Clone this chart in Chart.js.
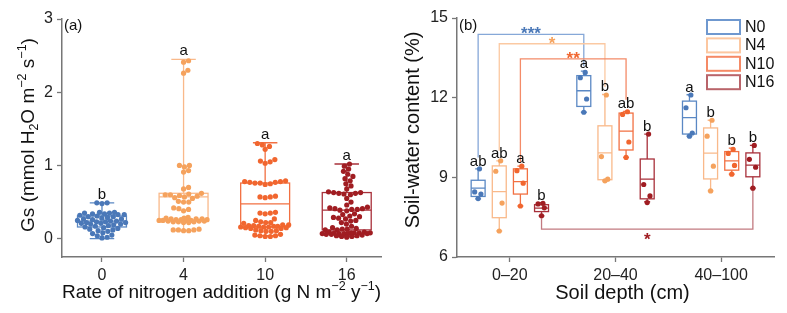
<!DOCTYPE html>
<html>
<head>
<meta charset="utf-8">
<script src="https://cdn.jsdelivr.net/npm/chart.js@4.4.1/dist/chart.umd.min.js"></script>
<style>
    html, body { margin: 0; padding: 0; background: #fff; }
    #wrap { position: relative; width: 787px; height: 313px; }
    #chartA { position: absolute; left: 0; top: 0; }
    #chartB { position: absolute; left: 400px; top: 0; }
</style>
</head>
<body>
<div id="wrap">
    <canvas id="chartA" width="400" height="313"></canvas>
    <canvas id="chartB" width="387" height="313"></canvas>
</div>
<script>
"use strict";

var FONT = "'Liberation Sans', Arial, sans-serif";

/* ---- panel (a) : stomatal conductance ---- */
var rateLabels = ['0', '4', '10', '16'];
var gsN0 = [0.49, 0.49, 0.48,
    0.36, 0.36, 0.35, 0.35, 0.34, 0.34, 0.33, 0.33,
    0.32, 0.31, 0.30, 0.30, 0.29, 0.28, 0.27, 0.27,
    0.26, 0.25, 0.24, 0.24, 0.23, 0.23, 0.22, 0.22, 0.21, 0.21, 0.20, 0.20,
    0.19, 0.18, 0.17, 0.16, 0.15, 0.14, 0.13, 0.12, 0.11, 0.10,
    0.08, 0.07, 0.05, 0.04, 0.02, 0.01];
var gsN4 = [2.43, 2.41, 2.30, 2.26,
    1.00, 1.00, 0.98, 0.93, 0.91,
    0.70, 0.68,
    0.62, 0.61, 0.60, 0.60, 0.59, 0.58, 0.57, 0.56, 0.55,
    0.51, 0.50, 0.50,
    0.42, 0.41, 0.40, 0.38,
    0.29, 0.28, 0.28, 0.27, 0.27, 0.27, 0.26, 0.26, 0.26, 0.25, 0.25, 0.25, 0.25,
    0.24, 0.24, 0.24, 0.23, 0.23, 0.23, 0.22, 0.22,
    0.13, 0.12, 0.12, 0.12, 0.11, 0.11];
var gsN10 = [1.30, 1.28, 1.26, 1.22,
    1.08, 1.06, 1.05, 1.03,
    0.79, 0.78, 0.78, 0.77, 0.77, 0.76, 0.76, 0.75, 0.74,
    0.58, 0.57, 0.57, 0.56,
    0.36, 0.35, 0.35, 0.34,
    0.27, 0.25, 0.23, 0.22, 0.22, 0.21,
    0.19, 0.19, 0.18, 0.18, 0.17, 0.17, 0.17, 0.16, 0.16, 0.16, 0.15, 0.15, 0.14, 0.14,
    0.12, 0.11, 0.11, 0.10, 0.10,
    0.06, 0.05, 0.04, 0.04, 0.03, 0.03];
var gsN16 = [1.02, 0.99, 0.95, 0.92, 0.88, 0.85, 0.82, 0.79, 0.75, 0.72, 0.68,
    0.64, 0.63, 0.63, 0.62, 0.62, 0.61, 0.60,
    0.55, 0.50, 0.46,
    0.43, 0.42, 0.41, 0.41, 0.40, 0.40, 0.39, 0.38,
    0.34, 0.33, 0.31, 0.30, 0.29, 0.28, 0.27, 0.25, 0.24, 0.22, 0.20,
    0.17, 0.15, 0.14, 0.13, 0.13, 0.12, 0.12,
    0.09, 0.09, 0.08, 0.08, 0.08, 0.08, 0.08, 0.07, 0.07, 0.07, 0.07, 0.07, 0.06, 0.06,
    0.05, 0.04, 0.04, 0.03, 0.03, 0.02];
// whisker low, q1, median, q3, whisker high
var gsStats = [
    [0.00, 0.16, 0.24, 0.31, 0.49],
    [0.11, 0.24, 0.57, 0.62, 2.45],
    [0.04, 0.16, 0.475, 0.76, 1.31],
    [0.03, 0.12, 0.39, 0.63, 1.02]
];
var gsLetters = ['b', 'a', 'a', 'a'];
var gsTicks = [0, 1, 2, 3];

/* ---- panel (b) : soil-water content ---- */
var depthLabels = ['0\u201320', '20\u201340', '40\u2013100'];
var treatments = ['N0', 'N4', 'N10', 'N16'];
var swcN0 = [[9.32, 8.45, 8.37, 8.20], [12.95, 12.75, 11.95, 11.45], [12.10, 11.62, 10.67, 10.55]];
var swcN4 = [[9.62, 9.23, 8.03, 6.98], [12.10, 9.78, 8.93, 8.87], [11.15, 10.55, 9.42, 8.49]];
var swcN10 = [[9.42, 9.25, 8.78, 7.92], [11.47, 11.37, 10.33, 9.75], [10.05, 9.90, 9.45, 9.12]];
var swcN16 = [[8.02, 8.00, 7.85, 7.55], [10.63, 8.73, 8.30, 8.05], [10.20, 9.68, 9.38, 8.59]];
var swcStats = [
    [[8.19, 8.28, 8.59, 8.89, 9.32], [11.45, 11.67, 12.26, 12.83, 13.00], [10.55, 10.63, 11.25, 11.87, 12.11]],
    [[6.98, 7.48, 8.46, 9.43, 9.62], [8.87, 8.91, 9.92, 10.94, 12.12], [8.49, 8.94, 9.91, 10.86, 11.15]],
    [[7.92, 8.37, 8.84, 9.32, 9.42], [9.75, 10.03, 10.74, 11.42, 11.48], [9.12, 9.27, 9.62, 9.97, 10.10]],
    [[7.55, 7.71, 7.84, 7.97, 8.05], [8.08, 8.19, 8.93, 9.69, 10.63], [8.59, 9.02, 9.46, 9.92, 10.20]]
];
var swcLetters = [['ab', 'a', 'a'], ['ab', 'b', 'b'], ['a', 'ab', 'b'], ['b', 'b', 'b']];
var swcTicks = [6, 9, 12, 15];
var sigBrackets = [
    { treat: 0, from: 0, to: 1, level: 14.38, fromEnd: 9.75, toEnd: 13.18, mark: '***' },
    { treat: 1, from: 0, to: 1, level: 14.03, fromEnd: 10.0, toEnd: 12.40, mark: '*' },
    { treat: 2, from: 0, to: 1, level: 13.46, fromEnd: 9.55, toEnd: 11.92, mark: '**' },
    { treat: 3, from: 0, to: 2, level: 7.05, fromEnd: 7.45, toEnd: 8.59, mark: '*' }
];

/* colours: N0, N4, N10, N16 */
var pointColors = ['#4a78b8', '#f5a25d', '#f1662f', '#a01d22'];
var boxColors = ['#5a88c4', '#f9b98a', '#f27042', '#a8303a'];
var bracketColors = ['#86a8d8', '#fbc9a2', '#f48b68', '#c27a80'];
var legendColors = ['#6f98cf', '#fcc7a0', '#f58a66', '#b9646a'];

var gsGroups = [gsN0, gsN4, gsN10, gsN16];
var swcGroups = [swcN0, swcN4, swcN10, swcN16];
var treatOffset = [-0.3, -0.1, 0.1, 0.3];

/* draw text made of parts, with sub/superscripts */
function drawRich(ctx, parts, cx, cy, size, rotate) {
    ctx.save();
    ctx.translate(cx, cy);
    if (rotate) ctx.rotate(-Math.PI / 2);
    ctx.fillStyle = '#111';
    ctx.textBaseline = 'middle';
    ctx.textAlign = 'left';
    var total = 0;
    parts.forEach(function (p) {
        ctx.font = (p.s ? size * 0.66 : size) + 'px ' + FONT;
        total += ctx.measureText(p.t).width;
    });
    var x = -total / 2;
    parts.forEach(function (p) {
        var fs = p.s ? size * 0.66 : size;
        var dy = p.s === 'sup' ? -size * 0.34 : (p.s === 'sub' ? size * 0.28 : 0);
        ctx.font = fs + 'px ' + FONT;
        ctx.fillText(p.t, x, dy);
        x += ctx.measureText(p.t).width;
    });
    ctx.restore();
}

function drawBox(ctx, xs, ys, xc, halfW, capHalf, st, color, lw) {
    var l = xs.getPixelForValue(xc - halfW), r = xs.getPixelForValue(xc + halfW);
    var m = xs.getPixelForValue(xc);
    var cl = xs.getPixelForValue(xc - capHalf), cr = xs.getPixelForValue(xc + capHalf);
    var yLo = ys.getPixelForValue(st[0]), yQ1 = ys.getPixelForValue(st[1]);
    var yMed = ys.getPixelForValue(st[2]), yQ3 = ys.getPixelForValue(st[3]);
    var yHi = ys.getPixelForValue(st[4]);
    ctx.save();
    ctx.strokeStyle = color;
    ctx.lineWidth = lw;
    ctx.strokeRect(l, yQ3, r - l, yQ1 - yQ3);
    ctx.beginPath();
    ctx.moveTo(l, yMed); ctx.lineTo(r, yMed);
    ctx.moveTo(m, yQ3); ctx.lineTo(m, yHi);
    ctx.moveTo(m, yQ1); ctx.lineTo(m, yLo);
    ctx.moveTo(cl, yHi); ctx.lineTo(cr, yHi);
    ctx.moveTo(cl, yLo); ctx.lineTo(cr, yLo);
    ctx.stroke();
    ctx.restore();
}

/* beeswarm layout in pixels; points stay within +-maxW, overlapping when crowded */
function swarmOffsets(values, toPix, d, maxW) {
    var order = values.map(function (v, i) { return i; })
        .sort(function (a, b) { return values[a] - values[b]; });
    var placed = [];
    var offs = new Array(values.length);
    function minDist(c, py) {
        var m = Infinity;
        placed.forEach(function (p) {
            var dd = Math.sqrt((p.x - c) * (p.x - c) + (p.y - py) * (p.y - py));
            if (dd < m) m = dd;
        });
        return m;
    }
    order.forEach(function (i) {
        var py = toPix(values[i]);
        var cands = [0];
        placed.forEach(function (p) {
            var dy = py - p.y;
            if (Math.abs(dy) < d) {
                var dx = Math.sqrt(d * d - dy * dy);
                cands.push(p.x + dx, p.x - dx);
            }
        });
        cands = cands.filter(function (c) { return Math.abs(c) <= maxW; });
        cands.sort(function (a, b) { return Math.abs(a) - Math.abs(b); });
        var pick = null;
        for (var k = 0; k < cands.length; k++) {
            if (minDist(cands[k], py) >= d - 0.01) { pick = cands[k]; break; }
        }
        if (pick === null) {
            // crowded: take the free-est spot across the allowed width
            var best = -1;
            for (var s = -maxW; s <= maxW + 0.001; s += 1) {
                var md = minDist(s, py);
                if (md > best + 0.001) { best = md; pick = s; }
            }
        }
        placed.push({ x: pick, y: py });
        offs[i] = pick;
    });
    return offs;
}

function axisCommon(size) {
    return {
        grid: { drawOnChartArea: false, drawTicks: true, tickLength: 5, tickColor: '#777', tickWidth: 1.3 },
        border: { color: '#777', width: 1.5 },
        ticks: { font: { family: FONT, size: size }, color: '#222', padding: 4, autoSkip: false, maxRotation: 0 }
    };
}

/* ---------- chart (a) ---------- */
var xA = axisCommon(16);
xA.type = 'linear';
xA.min = -0.49;
xA.max = 3.42;
xA.afterBuildTicks = function (s) { s.ticks = rateLabels.map(function (l, i) { return { value: i }; }); };
xA.ticks.callback = function (v) { return rateLabels[v]; };
xA.afterFit = function (s) { s.height = 56; };

var yA = axisCommon(16);
yA.min = -0.25;
yA.max = 3;
yA.afterBuildTicks = function (s) { s.ticks = gsTicks.map(function (v) { return { value: v }; }); };
yA.afterFit = function (s) { s.width = 62; };

var panelA = {
    id: 'panelA',
    beforeDatasetsDraw: function (chart) {
        var ctx = chart.ctx;
        gsStats.forEach(function (st, i) {
            drawBox(ctx, chart.scales.x, chart.scales.y, i, 0.3, 0.15, st, boxColors[i], 1.3);
        });
    },
    afterDraw: function (chart) {
        var ctx = chart.ctx, xs = chart.scales.x, ys = chart.scales.y, ca = chart.chartArea;
        ctx.save();
        ctx.fillStyle = '#111';
        ctx.textAlign = 'center';
        ctx.textBaseline = 'alphabetic';
        ctx.font = '15px ' + FONT;
        gsLetters.forEach(function (t, i) {
            ctx.fillText(t, xs.getPixelForValue(i), ys.getPixelForValue(gsStats[i][4]) - 4);
        });
        ctx.textAlign = 'left';
        ctx.textBaseline = 'middle';
        ctx.font = '15px ' + FONT;
        ctx.fillText('(a)', ca.left + 2, ca.top + 7);
        ctx.restore();
        drawRich(ctx, [{ t: 'Gs (mmol H' }, { t: '2', s: 'sub' }, { t: 'O m' }, { t: '\u22122', s: 'sup' },
            { t: ' s' }, { t: '\u22121', s: 'sup' }, { t: ')' }], 29, 135, 19, true);
        drawRich(ctx, [{ t: 'Rate of nitrogen addition (g N m' }, { t: '\u22122', s: 'sup' }, { t: ' y' },
            { t: '\u22121', s: 'sup' }, { t: ')' }], (ca.left + ca.right) / 2, 293, 19, false);
    }
};

var chartA = new Chart(document.getElementById('chartA').getContext('2d'), {
    type: 'scatter',
    data: {
        datasets: gsGroups.map(function (vals, i) {
            return {
                label: rateLabels[i],
                data: vals.map(function (v) { return { x: i, y: v }; }),
                backgroundColor: pointColors[i],
                borderWidth: 0,
                pointRadius: 2.6
            };
        })
    },
    options: {
        responsive: false,
        devicePixelRatio: 1,
        animation: false,
        events: [],
        layout: { padding: { top: 19, right: 19, left: 0, bottom: 0 } },
        plugins: { legend: { display: false }, tooltip: { enabled: false } },
        scales: { x: xA, y: yA }
    },
    plugins: [panelA]
});

/* spread the points like a beeswarm, kept inside the box width */
(function () {
    var xs = chartA.scales.x, ys = chartA.scales.y;
    var unitPx = xs.getPixelForValue(1) - xs.getPixelForValue(0);
    gsGroups.forEach(function (vals, i) {
        var offs = swarmOffsets(vals, function (v) { return ys.getPixelForValue(v); }, 5.2, unitPx * 0.3);
        chartA.data.datasets[i].data = vals.map(function (v, k) { return { x: i + offs[k] / unitPx, y: v }; });
    });
    chartA.update('none');
})();

/* ---------- chart (b) ---------- */
var xB = axisCommon(16);
xB.type = 'linear';
xB.min = -0.5;
xB.max = 2.5;
xB.afterBuildTicks = function (s) { s.ticks = depthLabels.map(function (l, i) { return { value: i }; }); };
xB.ticks.callback = function (v) { return depthLabels[v]; };
xB.afterFit = function (s) { s.height = 56; };

var yB = axisCommon(16);
yB.min = 6;
yB.max = 15;
yB.afterBuildTicks = function (s) { s.ticks = swcTicks.map(function (v) { return { value: v }; }); };
yB.afterFit = function (s) { s.width = 57; };

var jitterRank = [0.2, -0.5, 0.4, 0];
var boxHalfB = 0.066;

var panelB = {
    id: 'panelB',
    beforeDatasetsDraw: function (chart) {
        var ctx = chart.ctx, xs = chart.scales.x, ys = chart.scales.y;
        swcStats.forEach(function (byDepth, t) {
            byDepth.forEach(function (st, d) {
                drawBox(ctx, xs, ys, d + treatOffset[t], boxHalfB, 0.028, st, boxColors[t], 1.3);
            });
        });
        // significance brackets
        ctx.save();
        ctx.lineWidth = 1.3;
        ctx.font = 'bold 17px ' + FONT;
        ctx.textAlign = 'center';
        ctx.textBaseline = 'alphabetic';
        sigBrackets.forEach(function (b) {
            var x1 = xs.getPixelForValue(b.from + treatOffset[b.treat]);
            var x2 = xs.getPixelForValue(b.to + treatOffset[b.treat]);
            var yl = ys.getPixelForValue(b.level);
            ctx.strokeStyle = bracketColors[b.treat];
            ctx.beginPath();
            ctx.moveTo(x1, ys.getPixelForValue(b.fromEnd));
            ctx.lineTo(x1, yl);
            ctx.lineTo(x2, yl);
            ctx.lineTo(x2, ys.getPixelForValue(b.toEnd));
            ctx.stroke();
            ctx.fillStyle = pointColors[b.treat];
            var below = b.level < b.fromEnd;
            ctx.fillText(b.mark, (x1 + x2) / 2, below ? yl + 16 : yl + 5);
        });
        ctx.restore();
    },
    afterDraw: function (chart) {
        var ctx = chart.ctx, xs = chart.scales.x, ys = chart.scales.y, ca = chart.chartArea;
        ctx.save();
        ctx.fillStyle = '#111';
        ctx.textAlign = 'center';
        ctx.textBaseline = 'alphabetic';
        ctx.font = '15px ' + FONT;
        swcLetters.forEach(function (row, t) {
            row.forEach(function (l, d) {
                ctx.fillText(l, xs.getPixelForValue(d + treatOffset[t]), ys.getPixelForValue(swcStats[t][d][4]) - 3);
            });
        });
        ctx.textAlign = 'left';
        ctx.textBaseline = 'middle';
        ctx.fillText('(b)', ca.left + 2, ca.top + 8);
        // legend
        ctx.font = '16px ' + FONT;
        treatments.forEach(function (name, t) {
            var lx = ca.right - 67, ly = ca.top + 2 + t * 18.4;
            ctx.strokeStyle = legendColors[t];
            ctx.lineWidth = 2;
            ctx.strokeRect(lx, ly, 33, 14);
            ctx.fillStyle = '#111';
            ctx.fillText(name, lx + 38, ly + 7.5);
        });
        ctx.restore();
        drawRich(ctx, [{ t: 'Soil-water content (%)' }], 13, 130, 20, true);
        drawRich(ctx, [{ t: 'Soil depth (cm)' }], (ca.left + ca.right) / 2 + 7, 293, 20, false);
    }
};

var chartB = new Chart(document.getElementById('chartB').getContext('2d'), {
    type: 'scatter',
    data: {
        datasets: swcGroups.map(function (byDepth, t) {
            var pts = [];
            byDepth.forEach(function (vals, d) {
                var sorted = vals.slice().sort(function (a, b) { return b - a; });
                sorted.forEach(function (v, k) {
                    pts.push({ x: d + treatOffset[t] + jitterRank[k] * boxHalfB, y: v });
                });
            });
            return {
                label: treatments[t],
                data: pts,
                backgroundColor: pointColors[t],
                borderWidth: 0,
                pointRadius: 2.6
            };
        })
    },
    options: {
        responsive: false,
        devicePixelRatio: 1,
        animation: false,
        events: [],
        layout: { padding: { top: 18, right: 13, left: 0, bottom: 0 } },
        plugins: { legend: { display: false }, tooltip: { enabled: false } },
        scales: { x: xB, y: yB }
    },
    plugins: [panelB]
});
</script>
</body>
</html>
